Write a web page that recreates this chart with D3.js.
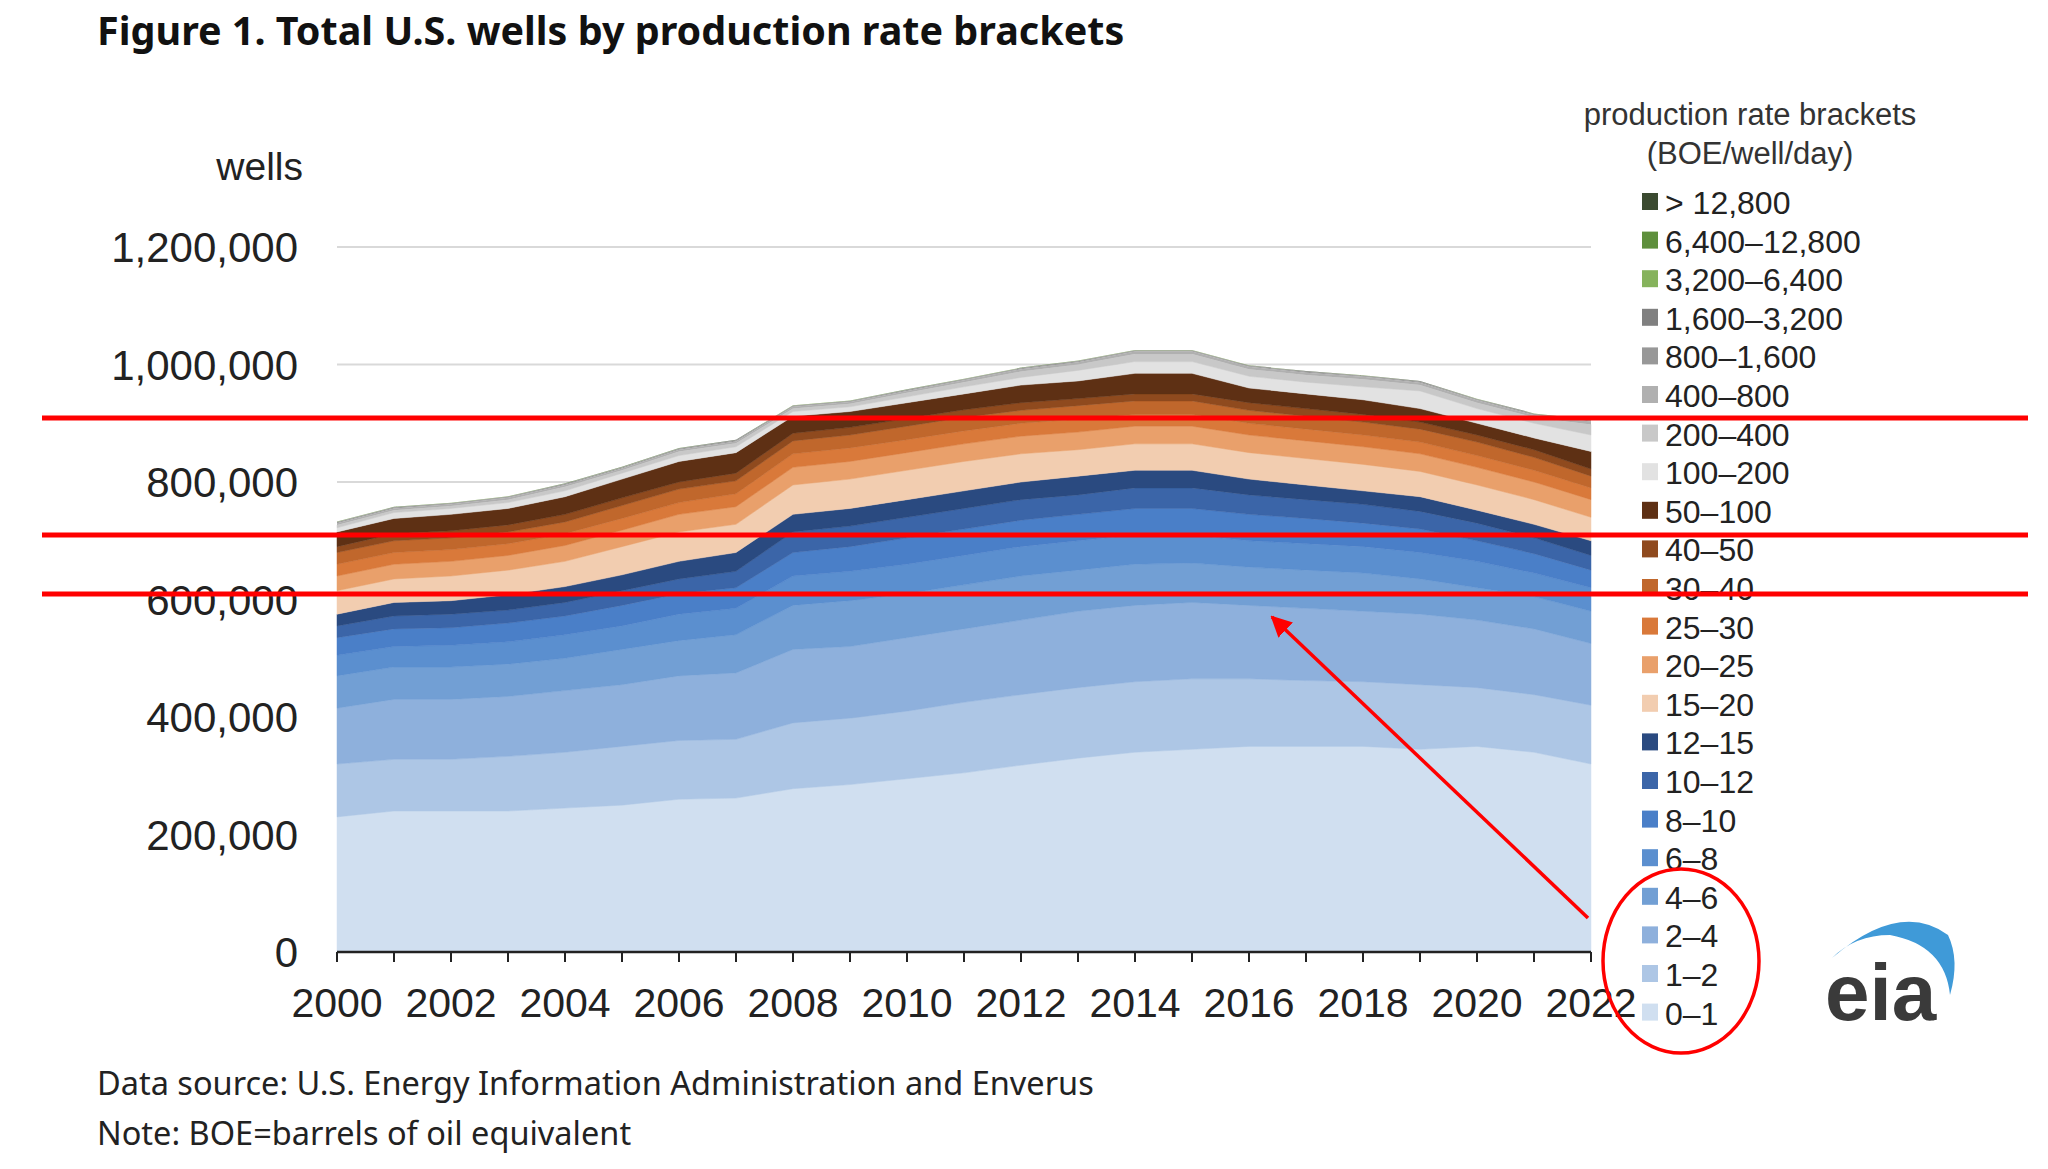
<!DOCTYPE html>
<html><head><meta charset="utf-8">
<script src="https://cdn.jsdelivr.net/npm/d3@7"></script>
<style>body{margin:0;background:#fff}svg{display:block}</style>
</head><body>
<script>
// years and brackets
var years = d3.range(2000, 2023);
var brackets = ["0–1","1–2","2–4","4–6","6–8","8–10","10–12","12–15","15–20","20–25","25–30","30–40","40–50","50–100","100–200","200–400","400–800","800–1,600","1,600–3,200","3,200–6,400","6,400–12,800","> 12,800"];
var colors = ["#d0dff0","#adc6e5","#8eb0dc","#729fd4","#5b8fcf","#4a7fc8","#3b65a8","#2a4a80","#f2cdb0","#e9a06b","#d9793a","#c0672c","#8f4a1e","#5e3014","#e2e2e2","#c8c8c8","#b0b0b0","#989898","#808080","#86b35c","#5e8f3c","#3b4a30"];

// wells (thousands) per bracket, 2000..2022
var w0_1    = [230,240,240,240,245,250,260,262,278,285,295,305,318,330,340,345,350,350,350,345,350,340,320];
var w1_2    = [90,88,88,93,95,100,100,100,112,113,115,120,120,120,120,120,115,112,110,110,100,98,100];
var w2_4    = [95,102,102,102,105,105,110,113,125,122,125,125,127,130,130,130,125,123,120,120,115,112,105];
var w4_6    = [55,55,55,55,55,60,60,65,75,78,75,75,75,70,70,67,65,65,65,60,55,55,55];
var w6_8    = [35,35,37,38,40,40,45,45,50,50,50,50,50,50,50,48,45,45,45,45,45,40,40];
var w8_10   = [30,30,30,32,32,35,35,35,40,42,45,45,45,45,45,45,45,43,40,40,35,33,30];
var w10_12  = [20,22,23,22,23,25,25,28,35,35,35,35,35,33,35,35,33,32,32,30,30,27,25];
var w12_15  = [20,23,23,26,27,27,30,32,30,30,30,30,30,32,30,30,27,25,23,25,22,23,25];
var w15_20  = [40,40,42,42,43,48,50,48,50,50,50,50,48,45,45,45,45,45,45,43,43,42,40];
var w20_25  = [25,25,25,25,27,28,30,30,30,30,30,30,30,30,30,30,30,30,30,30,30,30,30];
var w25_30  = [20,20,20,20,20,20,20,22,23,23,22,22,22,22,20,20,20,20,20,20,20,20,20];
var w30_40  = [20,20,20,20,20,22,23,22,22,22,23,23,22,23,23,23,22,22,22,22,23,22,20];
var w40_50  = [10,12,12,12,13,13,12,13,13,13,13,13,13,12,12,12,13,13,13,12,12,13,12];
var w50_100 = [25,26,28,28,30,32,35,35,29,27,27,27,30,30,35,35,25,25,25,23,20,20,30];
var w100_200= [7,10,10,10,10,10,10,10,8,8,10,12,13,18,20,20,20,20,22,30,25,25,28];
var w200_400= [5,4,4,5,7,5,7,6,5,5,7,8,10,10,13,13,12,12,13,10,10,10,18];
var w400_800= [3,3,3,3,3,3,3,3,3,3,3,3,4,4,4,4,4,4,4,4,4,4,5];
var w800_1600=[1.5,1.5,1.5,1.5,1.5,1.5,1.5,1.5,1.5,1.5,1.5,1.5,1.5,1.5,1.5,1.5,1.5,1.5,1.5,1.5,1.5,1.5,1.5];
var w1600_3200=[0.8,0.8,0.8,0.8,0.8,0.8,0.8,0.8,0.8,0.8,0.8,0.8,0.8,0.8,0.8,0.8,0.8,0.8,0.8,0.8,0.8,0.8,0.8];
var w3200_6400=[0.3,0.3,0.3,0.3,0.3,0.3,0.3,0.3,0.3,0.3,0.3,0.3,0.3,0.3,0.3,0.3,0.3,0.3,0.3,0.3,0.3,0.3,0.3];
var w6400_12800=[0.1,0.1,0.1,0.1,0.1,0.1,0.1,0.1,0.1,0.1,0.1,0.1,0.1,0.1,0.1,0.1,0.1,0.1,0.1,0.1,0.1,0.1,0.1];
var wOver12800=[0.05,0.05,0.05,0.05,0.05,0.05,0.05,0.05,0.05,0.05,0.05,0.05,0.05,0.05,0.05,0.05,0.05,0.05,0.05,0.05,0.05,0.05,0.05];
var series = [w0_1,w1_2,w2_4,w4_6,w6_8,w8_10,w10_12,w12_15,w15_20,w20_25,w25_30,w30_40,w40_50,w50_100,w100_200,w200_400,w400_800,w800_1600,w1600_3200,w3200_6400,w6400_12800,wOver12800];
var yTicks = [0,200000,400000,600000,800000,1000000,1200000];

var W = 2048, H = 1169;
var svg = d3.select("body").append("svg").attr("width", W).attr("height", H);
var x = d3.scaleLinear().domain([2000, 2022]).range([337, 1591]);
var y = d3.scaleLinear().domain([0, 1200000]).range([952, 247]);

var table = years.map(function (yr, i) {
    var row = {year: yr};
    brackets.forEach(function (b, k) { row[b] = series[k][i] * 1000; });
    return row;
});
var stacked = d3.stack().keys(brackets)(table);

// gridlines
svg.selectAll(".grid").data(yTicks.slice(1)).enter().append("line")
    .attr("x1", 337).attr("x2", 1591)
    .attr("y1", function (d) { return y(d); }).attr("y2", function (d) { return y(d); })
    .style("stroke", "#d9d9d9").style("stroke-width", 2);

var area = d3.area()
    .x(function (d) { return x(d.data.year); })
    .y0(function (d) { return y(d[0]); })
    .y1(function (d) { return y(d[1]); });

svg.selectAll(".layer").data(stacked).enter().append("path")
    .attr("d", area)
    .style("fill", function (d, i) { return colors[i]; })
    .style("stroke", function (d, i) { return i < 16 ? colors[i] : "none"; })
    .style("stroke-width", 0.5);

// axes
var font = "'Liberation Sans', Arial, sans-serif";
svg.selectAll(".ytick").data(yTicks).enter().append("text")
    .attr("x", 298).attr("y", function (d) { return y(d) + 15; })
    .style("text-anchor", "end").style("font-family", font).style("font-size", "42px").style("fill", "#222")
    .text(function (d) { return d3.format(",")(d); });
svg.append("text").attr("x", 303).attr("y", 180).style("text-anchor", "end")
    .style("font-family", font).style("font-size", "39px").style("fill", "#222").text("wells");

svg.append("line").attr("x1", 337).attr("x2", 1591).attr("y1", 952).attr("y2", 952)
    .style("stroke", "#222").style("stroke-width", 2.5);
svg.selectAll(".xtick").data(years).enter().append("line")
    .attr("x1", function (d) { return x(d); }).attr("x2", function (d) { return x(d); })
    .attr("y1", 952).attr("y2", 962).style("stroke", "#222").style("stroke-width", 2);
svg.selectAll(".xlab").data(years.filter(function (d) { return d % 2 === 0; })).enter().append("text")
    .attr("x", function (d) { return x(d); }).attr("y", 1017)
    .style("text-anchor", "middle").style("font-family", font).style("font-size", "41px").style("fill", "#222")
    .text(function (d) { return d; });

// title and notes
svg.append("text").attr("x", 97).attr("y", 45).style("font-family", "'Noto Sans', sans-serif")
    .style("font-weight", "bold").style("font-size", "39.5px").style("fill", "#111")
    .text("Figure 1. Total U.S. wells by production rate brackets");
svg.append("text").attr("x", 97).attr("y", 1095).style("font-family", "'Noto Sans', sans-serif")
    .style("font-size", "32.5px").style("fill", "#222").text("Data source: U.S. Energy Information Administration and Enverus");
svg.append("text").attr("x", 97).attr("y", 1145).style("font-family", "'Noto Sans', sans-serif")
    .style("font-size", "32.5px").style("fill", "#222").text("Note: BOE=barrels of oil equivalent");

// legend
svg.append("text").attr("x", 1750).attr("y", 125).style("text-anchor", "middle")
    .style("font-family", font).style("font-size", "31px").style("fill", "#333").text("production rate brackets");
svg.append("text").attr("x", 1750).attr("y", 164).style("text-anchor", "middle")
    .style("font-family", font).style("font-size", "31px").style("fill", "#333").text("(BOE/well/day)");
var legendOrder = brackets.map(function (b, i) { return i; }).reverse();
var lg = svg.selectAll(".legend").data(legendOrder).enter().append("g")
    .attr("transform", function (d, i) { return "translate(1642," + (202 + i * 38.6) + ")"; });
lg.append("rect").attr("x", 0).attr("y", -9).attr("width", 16).attr("height", 17)
    .style("fill", function (d) { return colors[d]; });
lg.append("text").attr("x", 23).attr("y", 12).style("font-family", font).style("font-size", "32px").style("fill", "#222")
    .text(function (d) { return brackets[d]; });

// eia logo
svg.append("path").attr("d", "M1832,958 Q1900,900 1948,935 Q1960,960 1950,995 Q1945,945 1890,935 Q1855,935 1832,958 Z")
    .style("fill", "#3f9ad8");
svg.append("text").attr("x", 1825).attr("y", 1020).style("font-family", "'Liberation Sans', sans-serif")
    .style("font-weight", "bold").style("font-size", "80px").style("fill", "#3a3a3a").text("eia");

// red annotations
[418, 535, 594].forEach(function (yy) {
    svg.append("line").attr("x1", 42).attr("x2", 2028).attr("y1", yy).attr("y2", yy)
        .style("stroke", "#ff0000").style("stroke-width", 5);
});
svg.append("ellipse").attr("cx", 1681).attr("cy", 961).attr("rx", 78).attr("ry", 92)
    .style("fill", "none").style("stroke", "#ff0000").style("stroke-width", 3.5);
svg.append("defs").append("marker").attr("id", "ah").attr("viewBox", "0 0 10 10").attr("refX", 9).attr("refY", 5)
    .attr("markerWidth", 6).attr("markerHeight", 6).attr("orient", "auto")
    .append("path").attr("d", "M0,0 L10,5 L0,10 Z").style("fill", "#ff0000");
svg.append("line").attr("x1", 1588).attr("y1", 918).attr("x2", 1272).attr("y2", 617)
    .style("stroke", "#ff0000").style("stroke-width", 3.5).attr("marker-end", "url(#ah)");
</script>
</body></html>
